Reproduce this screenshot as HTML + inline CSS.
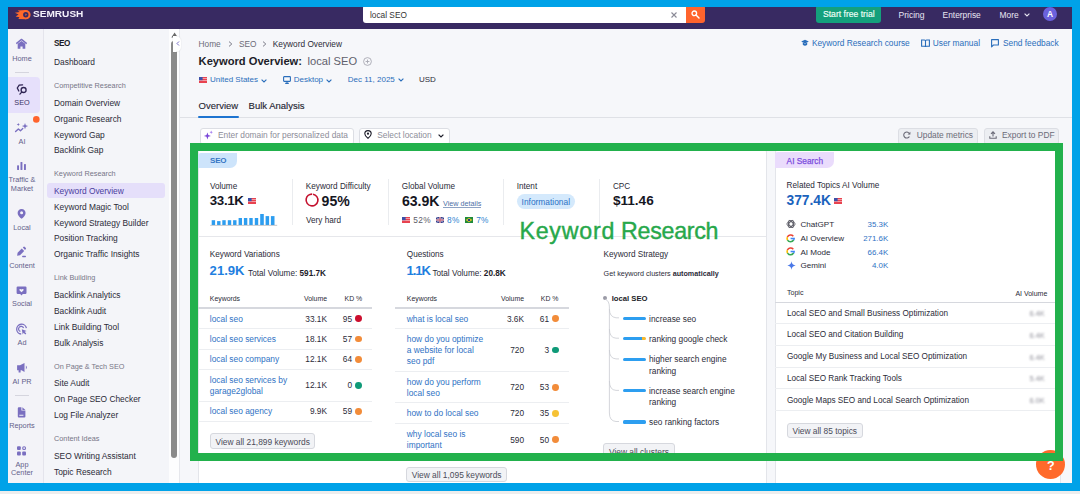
<!DOCTYPE html>
<html><head><meta charset="utf-8">
<style>
*{box-sizing:border-box;margin:0;padding:0}
html,body{width:1080px;height:494px;overflow:hidden;background:#f6f7fa;font-family:"Liberation Sans",sans-serif;color:#1f1f2e}
.a{position:absolute}
.t{position:absolute;white-space:nowrap;line-height:1}
svg{position:absolute;overflow:visible}
#hdr{left:0;top:0;width:1080px;height:29px;background:#382a62}
#isb{left:0;top:29px;width:43.5px;height:466px;background:#f3f3f8;border-right:1px solid #e4e4ec}
#ssb{left:43.5px;top:29px;width:134px;height:466px;background:#f4f5f9}
.il{font-size:7.3px;color:#645f8b;text-align:center;width:36px;left:4px;line-height:8.5px}
.sm{font-size:8.4px;color:#2b2b38;left:54px}
.sg{font-size:7.3px;color:#777687;left:54px}
.blue{color:#2a6ebb}
.card{background:#fff;border:1px solid #e3e5ea}
.lb{font-size:8.2px;color:#2b2b38}
.big{font-weight:700;color:#16161f}
.vd{top:179px;width:1px;height:46px;background:#eaecef}
.th{font-size:6.9px;color:#2b2b38;top:296px}
.rl{height:1px;background:#eceef1}
.kw{font-size:8.4px;color:#2f72c4}
.kv{font-size:8.3px;color:#2b2b38;width:30px;text-align:right}
.dot{width:6.8px;height:6.8px;border-radius:50%}
.btn{height:15.2px;background:#f2f3f6;border:1px solid #d6d8de;border-radius:3px}
.bt{font-size:8.4px;color:#4b4b58}
.kb{height:3.2px;border-radius:1.6px;background:#2d9ef0}
.ks{font-size:8.3px;color:#2b2b38}
.ai{font-size:8.1px;color:#2b2b38}
.av{font-size:7.9px;color:#2f72c4;width:40.2px;text-align:right}
.tp{font-size:8.2px;color:#2b2b38;left:786.9px}
.bv{font-size:7.4px;color:#8f8f99;left:1020px;width:24.6px;text-align:right;filter:blur(0.9px)}
</style></head><body>

<!-- HEADER -->
<div class="a" id="hdr"></div>
<!-- logo -->
<svg style="left:0;top:0" width="34" height="28" viewBox="0 0 34 28">
  <path d="M26 10.1 L17.6 10.4 L19.8 11.9 L14.9 12.7 L18.6 14.5 L15.6 16.6 L19.5 17.3 L18.3 19.1 L26 19.3 Z" fill="#ff6a2b"/>
  <circle cx="26" cy="14.7" r="4.6" fill="#ff6a2b"/>
  <circle cx="25.8" cy="14.8" r="2.7" fill="#382a62"/>
  <path d="M25.3 13.6 L27.2 14.8 L25.3 16 Z" fill="#ff6a2b" opacity="0.8"/>
</svg>
<div class="t" style="left:32.7px;top:10.3px;font-size:8.7px;font-weight:700;color:#f4f2fb;transform:scaleX(1.16);transform-origin:0 0">SEMRUSH</div>

<!-- search -->
<div class="a" style="left:362.5px;top:5px;width:323px;height:17.5px;background:#fff;border-radius:3px 0 0 3px"></div>
<div class="t" style="left:370px;top:10.5px;font-size:8.3px;color:#333">local SEO</div>
<svg style="left:671px;top:11.5px" width="6" height="6" viewBox="0 0 6 6"><path d="M0.5 0.5L5.5 5.5M5.5 0.5L0.5 5.5" stroke="#8a8a96" stroke-width="1.1"/></svg>
<div class="a" style="left:685.5px;top:5px;width:19.5px;height:18px;background:#ff642d;border-radius:0 3px 3px 0"></div>
<svg style="left:691px;top:10px" width="9" height="9" viewBox="0 0 9 9"><circle cx="3.3" cy="3.3" r="2.3" fill="none" stroke="#fff" stroke-width="1.3"/><path d="M5 5L8 8" stroke="#fff" stroke-width="1.4" stroke-linecap="round"/></svg>

<div class="a" style="left:816px;top:5px;width:65px;height:18px;background:#14a07c;border-radius:3px"></div>
<div class="t" style="left:823px;top:10.2px;font-size:8.6px;color:#effff8;-webkit-text-stroke:0.15px #effff8">Start free trial</div>
<div class="t" style="left:898.5px;top:10.8px;font-size:8.5px;color:#e8e6f2">Pricing</div>
<div class="t" style="left:942.6px;top:10.8px;font-size:8.4px;color:#e8e6f2">Enterprise</div>
<div class="t" style="left:999.6px;top:10.8px;font-size:8.4px;color:#e8e6f2">More</div>
<svg style="left:1024px;top:12.5px" width="6" height="4" viewBox="0 0 6 4"><path d="M0.6 0.6L3 3L5.4 0.6" fill="none" stroke="#e8e6f2" stroke-width="1.1"/></svg>
<div class="a" style="left:1043px;top:7.2px;width:14px;height:14px;border-radius:50%;background:#6b62de"></div>
<div class="t" style="left:1043px;width:14px;text-align:center;top:10.4px;font-size:8.4px;font-weight:700;color:#fff">A</div>

<!-- ICON SIDEBAR -->
<div class="a" id="isb"></div>
<div class="a" style="left:8px;top:77px;width:31.5px;height:35.5px;background:#e6e0fb;border-radius:0 4px 4px 0"></div>
<div class="a" style="left:14.5px;top:72px;width:14px;height:1px;background:#d5d5de"></div>
<div class="a" style="left:14.5px;top:395px;width:14px;height:1px;background:#d5d5de"></div>
<svg style="left:0;top:0" width="44" height="494" viewBox="0 0 44 494">
 <g fill="#7a6fc0">
  <path d="M16.3 43.6 L21.5 39.4 L26.7 43.6" fill="none" stroke="#7a6fc0" stroke-width="1.4" stroke-linejoin="round"/>
  <path d="M17.7 43.8 L21.5 41 L25.3 43.8 L25.3 48.8 L22.6 48.8 L22.6 46.6 L20.4 46.6 L20.4 48.8 L17.7 48.8 Z"/>
  <!-- AI -->
  <path d="M18.3 122.9 L18.8 124 L19.9 124.5 L18.8 125 L18.3 126.1 L17.8 125 L16.7 124.5 L17.8 124 Z"/>
  <path d="M25 122.9 L25.8 125.2 L28.1 126.1 L25.8 127 L25 129.3 L24.2 127 L21.9 126.1 L24.2 125.2 Z"/>
  <path d="M15.6 131.6 L18.4 129 L20.5 130.7 L22.8 128.6" fill="none" stroke="#7a6fc0" stroke-width="1.4" stroke-linecap="round" stroke-linejoin="round"/>
  <!-- traffic -->
  <rect x="17.1" y="165.3" width="1.9" height="4.8" rx="0.6"/>
  <rect x="20.5" y="162" width="1.9" height="8.1" rx="0.6"/>
  <rect x="24" y="163.9" width="1.9" height="6.2" rx="0.6"/>
  <!-- local -->
  <path d="M21.6 208.9 C24 208.9 25.6 210.7 25.6 212.9 C25.6 215.2 23.4 217.3 21.6 218.7 C19.8 217.3 17.6 215.2 17.6 212.9 C17.6 210.7 19.2 208.9 21.6 208.9 Z M21.6 211.3 A1.5 1.5 0 1 0 21.6 214.3 A1.5 1.5 0 1 0 21.6 211.3 Z" fill-rule="evenodd"/>
  <!-- content -->
  <path d="M17.1 255.8 L17.6 252.8 L21.8 248.6 L24.2 251 L20 255.2 Z"/>
  <path d="M22.8 247.6 L23.7 246.8 Q24.3 246.4 24.8 246.9 L25.9 248 Q26.3 248.5 25.8 249.1 L25 249.9 Z"/>
  <rect x="22.1" y="255.8" width="3.9" height="1.4" rx="0.7"/>
  <!-- social -->
  <path d="M17.8 286.4 L25.3 286.4 Q26.5 286.4 26.5 287.6 L26.5 292.7 Q26.5 293.9 25.3 293.9 L22.8 293.9 L21.5 295.6 L20.2 293.9 L17.8 293.9 Q16.6 293.9 16.6 292.7 L16.6 287.6 Q16.6 286.4 17.8 286.4 Z"/>
  <path d="M21.5 292.3 L19.6 290.4 Q19.1 289.6 19.8 289.1 Q20.6 288.7 21.5 289.6 Q22.4 288.7 23.2 289.1 Q23.9 289.6 23.4 290.4 Z" fill="#f3f3f8"/>
  <!-- ad -->
  <path d="M26.4 328.2 A4.9 4.9 0 1 0 21.2 334" fill="none" stroke="#7a6fc0" stroke-width="1.3"/>
  <path d="M23.6 328 A2.6 2.6 0 1 0 20.4 331.4" fill="none" stroke="#7a6fc0" stroke-width="1.2"/>
  <path d="M21.8 329.2 L26.6 331 L24.6 331.8 L26.3 333.6 L25.3 334.5 L23.6 332.7 L22.7 334.6 Z"/>
  <!-- AI PR -->
  <path d="M17.1 365.3 L20 365.3 L24.5 363 L24.5 372 L21.6 370.2 L20.6 370.2 L20.6 372.4 L18.6 372.4 L18.6 370.2 L17.1 370.2 Z"/>
  <path d="M25.9 365.6 Q27.8 367.5 25.9 369.4 Z"/>
  <!-- reports -->
  <path d="M18.8 407.2 L21.4 407.2 L21.4 410.6 L25.4 410.6 L25.4 416.6 Q25.4 417.6 24.4 417.6 L18.8 417.6 Q17.8 417.6 17.8 416.6 L17.8 408.2 Q17.8 407.2 18.8 407.2 Z M19.3 414.8 L19.3 415.8 L23.4 415.8 L23.4 414.8 Z" fill-rule="evenodd"/>
  <path d="M22.4 407.2 L25.4 410 L22.4 410 Z"/>
  <!-- app -->
  <rect x="17" y="446.2" width="3.8" height="3.8" rx="1"/>
  <rect x="17" y="451.6" width="3.8" height="3.8" rx="1"/>
  <rect x="22.2" y="451.6" width="3.8" height="3.8" rx="1"/>
  <rect x="22.7" y="446.7" width="2.8" height="2.8" rx="1.3" fill="none" stroke="#7a6fc0" stroke-width="1.1"/>
 </g>
 <!-- SEO active icon -->
 <g fill="none" stroke="#2f2553" stroke-width="1.3" stroke-linecap="round">
  <circle cx="23.6" cy="90" r="2.5"/>
  <path d="M21.7 92.1 L19.9 94.1"/>
  <path d="M22.6 84.9 L19.2 85.2 L17.3 88 L18.8 91"/>
 </g>
 <circle cx="36.3" cy="119.4" r="3.3" fill="#ff642d"/>
</svg>
<div class="t il" style="top:54.6px">Home</div>
<div class="t il" style="top:99.2px;color:#3d3466">SEO</div>
<div class="t il" style="top:137.6px">AI</div>
<div class="t il" style="top:176.2px">Traffic &amp;</div>
<div class="t il" style="top:185.2px">Market</div>
<div class="t il" style="top:223.7px">Local</div>
<div class="t il" style="top:262.0px">Content</div>
<div class="t il" style="top:300.4px">Social</div>
<div class="t il" style="top:339.1px">Ad</div>
<div class="t il" style="top:377.7px">AI PR</div>
<div class="t il" style="top:422.4px">Reports</div>
<div class="t il" style="top:460.8px">App</div>
<div class="t il" style="top:469.3px">Center</div>

<!-- SEO SIDEBAR -->
<div class="a" id="ssb"></div>
<div class="a" style="left:47.4px;top:183.2px;width:118px;height:15px;background:#e5dffa;border-radius:3px"></div>
<div class="t sm" style="top:39.7px;font-weight:700;font-size:8.2px;letter-spacing:-0.45px;color:#1c1c28">SEO</div>
<div class="t sm" style="top:58.1px">Dashboard</div>
<div class="t sg" style="top:82.2px">Competitive Research</div>
<div class="t sm" style="top:98.5px">Domain Overview</div>
<div class="t sm" style="top:114.5px">Organic Research</div>
<div class="t sm" style="top:130.5px">Keyword Gap</div>
<div class="t sm" style="top:146.3px">Backlink Gap</div>
<div class="t sg" style="top:170.4px">Keyword Research</div>
<div class="t sm" style="top:186.8px;color:#4a3e9e">Keyword Overview</div>
<div class="t sm" style="top:202.6px">Keyword Magic Tool</div>
<div class="t sm" style="top:218.5px">Keyword Strategy Builder</div>
<div class="t sm" style="top:234.4px">Position Tracking</div>
<div class="t sm" style="top:250.2px">Organic Traffic Insights</div>
<div class="t sg" style="top:274.3px">Link Building</div>
<div class="t sm" style="top:291.2px">Backlink Analytics</div>
<div class="t sm" style="top:307.0px">Backlink Audit</div>
<div class="t sm" style="top:322.8px">Link Building Tool</div>
<div class="t sm" style="top:338.8px">Bulk Analysis</div>
<div class="t sg" style="top:362.5px">On Page &amp; Tech SEO</div>
<div class="t sm" style="top:379.4px">Site Audit</div>
<div class="t sm" style="top:395.0px">On Page SEO Checker</div>
<div class="t sm" style="top:411.0px">Log File Analyzer</div>
<div class="t sg" style="top:435.2px">Content Ideas</div>
<div class="t sm" style="top:451.7px">SEO Writing Assistant</div>
<div class="t sm" style="top:467.5px">Topic Research</div>
<!-- scrollbar -->
<div class="a" style="left:168.7px;top:29px;width:11.8px;height:466px;background:#fdfdfe;border-right:1.2px solid #e6e7ec"></div>
<div class="a" style="left:171.2px;top:41.4px;width:5.7px;height:416.5px;background:#8a8a8a;border-radius:3px"></div>
<svg style="left:170.5px;top:32px" width="7" height="6" viewBox="0 0 7 6"><path d="M0.3 5.4 L3.6 0.6 L6.9 5.4 Z" fill="#6a6a6a"/></svg>
<div class="a" style="left:173px;top:36px;width:8px;height:15.7px;background:#fff;border-radius:0 5px 5px 0;box-shadow:0 0 1.5px rgba(0,0,0,0.12)"></div>
<svg style="left:176.3px;top:41.2px" width="4" height="5" viewBox="0 0 4 5"><path d="M3 0.5 L1 2.5 L3 4.5" fill="none" stroke="#6a5fc0" stroke-width="0.9"/></svg>

<!-- CONTENT -->
<div class="t" style="left:198.6px;top:39.6px;font-size:8.3px;color:#6b6b78">Home</div>
<svg style="left:227.9px;top:40.9px" width="5" height="6" viewBox="0 0 5 6"><path d="M1 0.6L3.8 3L1 5.4" fill="none" stroke="#7d7d89" stroke-width="1"/></svg>
<div class="t" style="left:238.9px;top:39.6px;font-size:8.3px;color:#6b6b78">SEO</div>
<svg style="left:262.0px;top:40.9px" width="5" height="6" viewBox="0 0 5 6"><path d="M1 0.6L3.8 3L1 5.4" fill="none" stroke="#7d7d89" stroke-width="1"/></svg>
<div class="t" style="left:272.8px;top:39.6px;font-size:8.3px;color:#2b2b38">Keyword Overview</div>

<div class="t" style="left:198.6px;top:56.4px;font-size:11.15px;font-weight:700;color:#1c1c28">Keyword Overview:</div>
<div class="t" style="left:307.6px;top:56.4px;font-size:11.15px;color:#5f5f6c">local SEO</div>
<svg style="left:362.5px;top:57.4px" width="9" height="9" viewBox="0 0 9 9"><circle cx="4.5" cy="4.5" r="3.9" fill="none" stroke="#a8a8b2" stroke-width="0.9"/><path d="M4.5 2.6V6.4M2.6 4.5H6.4" stroke="#a8a8b2" stroke-width="0.9"/></svg>

<svg style="left:199.2px;top:77px" width="8" height="6" viewBox="0 0 8 6"><rect width="8" height="6" fill="#e8424f"/><rect y="1.2" width="8" height="0.8" fill="#fff" opacity=".6"/><rect y="3.2" width="8" height="0.8" fill="#fff" opacity=".6"/><rect width="3.6" height="3.2" fill="#3c4fa8"/></svg>
<div class="t" style="left:210px;top:75.7px;font-size:8px;color:#2a6ebb">United States</div>
<svg style="left:261px;top:78.5px" width="6" height="4" viewBox="0 0 6 4"><path d="M0.6 0.6L3 3L5.4 0.6" fill="none" stroke="#2a6ebb" stroke-width="1.1"/></svg>
<svg style="left:283px;top:75.8px" width="8" height="8" viewBox="0 0 8 8"><rect x="0.6" y="0.6" width="6.8" height="4.8" rx="0.6" fill="none" stroke="#2a6ebb" stroke-width="1.1"/><path d="M4 5.4V7.2M2.2 7.4H5.8" stroke="#2a6ebb" stroke-width="1.1"/></svg>
<div class="t" style="left:293.7px;top:75.7px;font-size:8px;color:#2a6ebb">Desktop</div>
<svg style="left:326.3px;top:78.5px" width="6" height="4" viewBox="0 0 6 4"><path d="M0.6 0.6L3 3L5.4 0.6" fill="none" stroke="#2a6ebb" stroke-width="1.1"/></svg>
<div class="t" style="left:347.8px;top:75.7px;font-size:8px;color:#2a6ebb">Dec 11, 2025</div>
<svg style="left:398px;top:78.3px" width="6" height="4" viewBox="0 0 6 4"><path d="M0.6 0.6L3 3L5.4 0.6" fill="none" stroke="#2a6ebb" stroke-width="1.1"/></svg>
<div class="t" style="left:419px;top:75.7px;font-size:8px;color:#2b2b38">USD</div>

<div class="t" style="left:198.6px;top:101.2px;font-size:9.5px;color:#262633;-webkit-text-stroke:0.12px #262633">Overview</div>
<div class="t" style="left:248.6px;top:101px;font-size:9.5px;color:#262633;-webkit-text-stroke:0.15px #262633">Bulk Analysis</div>
<div class="a" style="left:179.8px;top:117px;width:893px;height:1px;background:#dfe1e6"></div>
<div class="a" style="left:198.4px;top:115.8px;width:40.6px;height:2px;background:#1e74d0;border-radius:1px"></div>

<!-- top right links -->
<svg style="left:801.4px;top:39.3px" width="8" height="8" viewBox="0 0 8 8"><path d="M0.2 2.6L4 0.8L7.8 2.6L4 4.4Z" fill="#2a6ebb"/><path d="M1.8 3.6V5.8Q4 7.6 6.2 5.8V3.6L4 4.7Z" fill="#2a6ebb"/></svg>
<div class="t" style="left:811.9px;top:39.4px;font-size:8.35px;color:#2a6ebb">Keyword Research course</div>
<svg style="left:921px;top:39px" width="9" height="9" viewBox="0 0 9 9"><path d="M0.6 1H3.4Q4.5 1 4.5 2.1V8Q4.5 7.2 3.4 7.2H0.6Z M8.4 1H5.6Q4.5 1 4.5 2.1V8Q4.5 7.2 5.6 7.2H8.4Z" fill="none" stroke="#2a6ebb" stroke-width="1.1"/></svg>
<div class="t" style="left:932.7px;top:39.4px;font-size:8.35px;color:#2a6ebb">User manual</div>
<svg style="left:991.4px;top:39.2px" width="8" height="9" viewBox="0 0 8 9"><path d="M0.6 0.6H7.4V6H2.4L0.6 7.8Z" fill="none" stroke="#2a6ebb" stroke-width="1.1" stroke-linejoin="round"/></svg>
<div class="t" style="left:1003px;top:39.4px;font-size:8.35px;color:#2a6ebb">Send feedback</div>

<!-- toolbar -->
<div class="a" style="left:199.6px;top:127.6px;width:154.3px;height:17px;background:#fff;border:1px solid #dcdee4;border-radius:3px"></div>
<svg style="left:203px;top:130px" width="11" height="10" viewBox="0 0 11 10"><path d="M4.4 2.4L5.3 5L7.9 5.9L5.3 6.8L4.4 9.4L3.5 6.8L0.9 5.9L3.5 5Z" fill="#7b47d9"/><path d="M8.2 0.6L8.7 1.8L9.9 2.3L8.7 2.8L8.2 4L7.7 2.8L6.5 2.3L7.7 1.8Z" fill="#a57cf0"/></svg>
<div class="t" style="left:218px;top:131.3px;font-size:8.36px;color:#8d8d99">Enter domain for personalized data</div>
<div class="a" style="left:358.5px;top:127.6px;width:91.5px;height:17px;background:#fff;border:1px solid #dcdee4;border-radius:3px"></div>
<svg style="left:363.5px;top:130.4px" width="8" height="9" viewBox="0 0 8 9"><path d="M4 0.6C5.9 0.6 7.2 2 7.2 3.7C7.2 5.5 5.4 7.2 4 8.4C2.6 7.2 0.8 5.5 0.8 3.7C0.8 2 2.1 0.6 4 0.6Z" fill="none" stroke="#1c1c28" stroke-width="1.1"/><circle cx="4" cy="3.7" r="1.1" fill="#1c1c28"/></svg>
<div class="t" style="left:377.2px;top:131.3px;font-size:8.4px;color:#8d8d99">Select location</div>
<svg style="left:438px;top:133.8px" width="6" height="4" viewBox="0 0 6 4"><path d="M0.6 0.6L3 3L5.4 0.6" fill="none" stroke="#1c1c28" stroke-width="1.2"/></svg>

<div class="a" style="left:898.3px;top:127.5px;width:80px;height:17px;background:#eceef2;border:1px solid #dcdee4;border-radius:3px"></div>
<svg style="left:902.8px;top:131px" width="8" height="8" viewBox="0 0 8 8"><path d="M6.6 3.2A3 3 0 1 0 6.4 5.4" fill="none" stroke="#6b6b78" stroke-width="1.1"/><path d="M7.4 0.8V3.6H4.6Z" fill="#6b6b78"/></svg>
<div class="t" style="left:916.7px;top:131.3px;font-size:8.4px;color:#6b6b78">Update metrics</div>
<div class="a" style="left:984.2px;top:127.5px;width:74.5px;height:17px;background:#eceef2;border:1px solid #dcdee4;border-radius:3px"></div>
<svg style="left:989px;top:130.6px" width="8" height="8" viewBox="0 0 8 8"><path d="M4 5.4V1M2 2.8L4 0.8L6 2.8M0.8 5.2V7.2H7.2V5.2" fill="none" stroke="#6b6b78" stroke-width="1.1"/></svg>
<div class="t" style="left:1002px;top:131.3px;font-size:8.4px;color:#6b6b78">Export to PDF</div>

<!-- SEO CARD -->
<div class="a card" style="left:197.5px;top:148px;width:569px;height:360px;border-radius:4px"></div>
<div class="a" style="left:198px;top:152.5px;width:38.7px;height:15.8px;background:#cde4fb;border-radius:3px 0 7px 0"></div>
<div class="t" style="left:210px;top:157.3px;font-size:8px;font-weight:700;letter-spacing:-0.2px;color:#3676c4">SEO</div>

<!-- metric labels -->
<div class="t lb" style="left:209.9px;top:182.8px">Volume</div>
<div class="t lb" style="left:305.8px;top:182.8px">Keyword Difficulty</div>
<div class="t lb" style="left:401.8px;top:182.8px">Global Volume</div>
<div class="t lb" style="left:516.7px;top:182.8px">Intent</div>
<div class="t lb" style="left:612.9px;top:182.8px">CPC</div>
<div class="t big" style="left:209.7px;top:194.4px;font-size:13.3px;letter-spacing:-0.3px">33.1K</div>
<svg style="left:247.6px;top:198.4px" width="8" height="6" viewBox="0 0 8 6"><rect width="8" height="6" fill="#e8424f"/><rect y="1.2" width="8" height="0.8" fill="#fff" opacity=".6"/><rect y="3.2" width="8" height="0.8" fill="#fff" opacity=".6"/><rect width="3.6" height="3.2" fill="#3c4fa8"/></svg>
<svg style="left:209px;top:212px" width="70" height="14" viewBox="0 0 70 14">
 <g fill="#2c9df0">
  <rect x="2.7" y="8.2" width="3.4" height="4.8"/><rect x="8.1" y="9.1" width="3.4" height="3.9"/><rect x="13.3" y="8.2" width="3.4" height="4.8"/><rect x="18.8" y="8.2" width="3.4" height="4.8"/><rect x="24.1" y="8.2" width="3.4" height="4.8"/><rect x="29.6" y="6" width="3.4" height="7"/><rect x="34.9" y="6" width="3.4" height="7"/><rect x="40.3" y="6" width="3.4" height="7"/><rect x="45.8" y="6" width="3.4" height="7"/><rect x="51.2" y="2" width="3.6" height="11"/><rect x="56.6" y="4.1" width="3.5" height="8.9"/><rect x="61.9" y="4.1" width="3.6" height="8.9"/>
 </g>
 <rect x="1.2" y="12.9" width="67" height="0.6" fill="#9aa0aa"/>
</svg>
<div class="a vd" style="left:291.5px"></div>
<svg style="left:305px;top:193.3px" width="14" height="14" viewBox="0 0 14 14"><circle cx="7" cy="7" r="5.9" fill="none" stroke="#c4122f" stroke-width="1.6" stroke-dasharray="35.2 1.9" transform="rotate(-80 7 7)"/></svg>
<div class="t big" style="left:321.6px;top:194.4px;font-size:14.1px">95%</div>
<div class="t lb" style="left:306px;top:216.5px">Very hard</div>
<div class="a vd" style="left:388px"></div>
<div class="t big" style="left:401.9px;top:194.4px;font-size:14.1px">63.9K</div>
<div class="t" style="left:443.1px;top:199.6px;font-size:7.2px;color:#4c6fa6">View details</div>
<div class="a" style="left:443.1px;top:207.3px;width:38.2px;height:0.8px;background:#8ea3c4"></div>
<svg style="left:401.9px;top:216.9px" width="8" height="6" viewBox="0 0 8 6"><rect width="8" height="6" fill="#e8424f"/><rect y="1.2" width="8" height="0.8" fill="#fff" opacity=".6"/><rect y="3.2" width="8" height="0.8" fill="#fff" opacity=".6"/><rect width="3.6" height="3.2" fill="#3c4fa8"/></svg>
<div class="t" style="left:413.3px;top:215.6px;font-size:8.3px;color:#5b5b68;letter-spacing:0.3px">52%</div>
<svg style="left:436px;top:216.9px" width="8" height="6" viewBox="0 0 8 6"><rect width="8" height="6" fill="#33408f"/><path d="M0 0L8 6M8 0L0 6" stroke="#d8d8e8" stroke-width="0.8"/><path d="M4 0V6M0 3H8" stroke="#e6e6f0" stroke-width="1.4"/><path d="M4 0V6M0 3H8" stroke="#c8283c" stroke-width="0.7"/></svg>
<div class="t" style="left:447px;top:215.6px;font-size:8.3px;color:#2f7fd0;letter-spacing:0.3px">8%</div>
<svg style="left:465.1px;top:216.9px" width="8" height="6" viewBox="0 0 8 6"><rect width="8" height="6" fill="#1f8a3b"/><path d="M4 0.7L7.3 3L4 5.3L0.7 3Z" fill="#f4d21f"/><circle cx="4" cy="3" r="1.3" fill="#1f3f8f"/></svg>
<div class="t" style="left:476.2px;top:215.6px;font-size:8.3px;color:#2f7fd0;letter-spacing:0.3px">7%</div>
<div class="a vd" style="left:502.8px"></div>
<div class="a" style="left:516.7px;top:193.6px;width:58.6px;height:15.3px;background:#d4e9fc;border-radius:8px"></div>
<div class="t" style="left:521.6px;top:197.5px;font-size:8.4px;color:#2a72c6">Informational</div>
<div class="a vd" style="left:598.6px"></div>
<div class="t big" style="left:612.9px;top:194.4px;font-size:13.6px">$11.46</div>
<div class="a" style="left:198px;top:236px;width:568px;height:1px;background:#e6e7eb"></div>

<!-- Keyword Variations -->
<div class="t lb" style="left:209.8px;top:251.0px">Keyword Variations</div>
<div class="t big" style="left:209.6px;top:264.2px;font-size:13.1px;color:#1f7fe0">21.9K</div>
<div class="t lb" style="left:248.1px;top:269.7px">Total Volume: <b style="color:#1c1c28">591.7K</b></div>
<div class="t th" style="left:209.8px">Keywords</div>
<div class="t th" style="left:303px;width:24px;text-align:right">Volume</div>
<div class="t th" style="left:344.6px">KD %</div>
<div class="a" style="left:198px;top:307.3px;width:174px;height:1.5px;background:#d6d8de"></div>
<div class="a rl" style="left:198px;top:328.4px;width:174px"></div>
<div class="a rl" style="left:198px;top:348.9px;width:174px"></div>
<div class="a rl" style="left:198px;top:368.8px;width:174px"></div>
<div class="a rl" style="left:198px;top:400.5px;width:174px"></div>
<div class="a rl" style="left:198px;top:420.9px;width:174px"></div>
<div class="t kw" style="left:209.8px;top:314.5px">local seo</div>
<div class="t kv" style="left:297px;top:314.5px">33.1K</div><div class="t kv" style="left:322px;top:314.5px">95</div><div class="a dot" style="left:355.1px;top:315.3px;background:#cc0f2f"></div>
<div class="t kw" style="left:209.8px;top:334.9px">local seo services</div>
<div class="t kv" style="left:297px;top:334.9px">18.1K</div><div class="t kv" style="left:322px;top:334.9px">57</div><div class="a dot" style="left:355.1px;top:335.7px;background:#f28c3a"></div>
<div class="t kw" style="left:209.8px;top:355px">local seo company</div>
<div class="t kv" style="left:297px;top:355px">12.1K</div><div class="t kv" style="left:322px;top:355px">64</div><div class="a dot" style="left:355.1px;top:355.8px;background:#f28c3a"></div>
<div class="t kw" style="left:209.8px;top:376px">local seo services by</div>
<div class="t kw" style="left:209.8px;top:386.8px">garage2global</div>
<div class="t kv" style="left:297px;top:381.4px">12.1K</div><div class="t kv" style="left:322px;top:381.4px">0</div><div class="a dot" style="left:355.1px;top:382.2px;background:#0f9a78"></div>
<div class="t kw" style="left:209.8px;top:407.2px">local seo agency</div>
<div class="t kv" style="left:297px;top:407.2px">9.9K</div><div class="t kv" style="left:322px;top:407.2px">59</div><div class="a dot" style="left:355.1px;top:408.0px;background:#f28c3a"></div>
<div class="a btn" style="left:209.9px;top:433.4px;width:105.2px"></div>
<div class="t bt" style="left:215.5px;top:437.5px">View all 21,899 keywords</div>

<!-- Questions -->
<div class="t lb" style="left:406.8px;top:251.0px">Questions</div>
<div class="t big" style="left:406.6px;top:264.2px;font-size:13.1px;color:#1f7fe0;letter-spacing:-1.1px">1.1K</div>
<div class="t lb" style="left:432.4px;top:269.7px">Total Volume: <b style="color:#1c1c28">20.8K</b></div>
<div class="t th" style="left:406.8px">Keywords</div>
<div class="t th" style="left:500px;width:24px;text-align:right">Volume</div>
<div class="t th" style="left:540.8px">KD %</div>
<div class="a" style="left:395px;top:307.3px;width:174px;height:1.5px;background:#d6d8de"></div>
<div class="a rl" style="left:395px;top:328.3px;width:174px"></div>
<div class="a rl" style="left:395px;top:370.6px;width:174px"></div>
<div class="a rl" style="left:395px;top:402.2px;width:174px"></div>
<div class="a rl" style="left:395px;top:422.9px;width:174px"></div>
<div class="a rl" style="left:395px;top:455.5px;width:174px"></div>
<div class="t kw" style="left:406.8px;top:314.5px">what is local seo</div>
<div class="t kv" style="left:494px;top:314.5px">3.6K</div><div class="t kv" style="left:519px;top:314.5px">61</div><div class="a dot" style="left:552.2px;top:315.3px;background:#f28c3a"></div>
<div class="t kw" style="left:406.8px;top:334.7px">how do you optimize</div>
<div class="t kw" style="left:406.8px;top:345.9px">a website for local</div>
<div class="t kw" style="left:406.8px;top:357.1px">seo pdf</div>
<div class="t kv" style="left:494px;top:345.9px">720</div><div class="t kv" style="left:519px;top:345.9px">3</div><div class="a dot" style="left:552.2px;top:346.7px;background:#0f9a78"></div>
<div class="t kw" style="left:406.8px;top:377.7px">how do you perform</div>
<div class="t kw" style="left:406.8px;top:388.9px">local seo</div>
<div class="t kv" style="left:494px;top:383.3px">720</div><div class="t kv" style="left:519px;top:383.3px">53</div><div class="a dot" style="left:552.2px;top:384.1px;background:#f28c3a"></div>
<div class="t kw" style="left:406.8px;top:409.2px">how to do local seo</div>
<div class="t kv" style="left:494px;top:409.2px">720</div><div class="t kv" style="left:519px;top:409.2px">35</div><div class="a dot" style="left:552.2px;top:410.0px;background:#f6c235"></div>
<div class="t kw" style="left:406.8px;top:430px">why local seo is</div>
<div class="t kw" style="left:406.8px;top:441.2px">important</div>
<div class="t kv" style="left:494px;top:435.6px">590</div><div class="t kv" style="left:519px;top:435.6px">50</div><div class="a dot" style="left:552.2px;top:436.4px;background:#f28c3a"></div>
<div class="a btn" style="left:406.3px;top:467.2px;width:100.5px"></div>
<div class="t bt" style="left:411.8px;top:471.3px">View all 1,095 keywords</div>

<!-- Keyword Strategy -->
<div class="t lb" style="left:603.6px;top:251.0px">Keyword Strategy</div>
<div class="t" style="left:603.6px;top:269.7px;font-size:7.2px;color:#2b2b38">Get keyword clusters <b>automatically</b></div>
<div class="a" style="left:603.2px;top:295.7px;width:4.2px;height:4.2px;border-radius:50%;background:#9a9aa6"></div>
<div class="t" style="left:611.7px;top:294.6px;font-size:7.7px;font-weight:700;color:#1c1c28">local SEO</div>
<svg style="left:600px;top:295px" width="30" height="132" viewBox="0 0 30 132">
 <g fill="none" stroke="#c9cbd2" stroke-width="0.8">
  <path d="M5.2 4 Q9.4 6 9.4 12 L9.4 118 Q9.4 126 16 126.5 L19 126.5"/>
  <path d="M9.4 14 Q9.4 22 16 22.8 L19 22.8"/>
  <path d="M9.4 34 Q9.4 42.8 16 43.2 L19 43.2"/>
  <path d="M9.4 55 Q9.4 63.5 16 63.9 L19 63.9"/>
  <path d="M9.4 86 Q9.4 95 16 95.4 L19 95.4"/>
 </g>
</svg>
<div class="a kb" style="left:623.4px;top:316.8px;width:22.3px"></div>
<div class="t ks" style="left:649.1px;top:314.6px">increase seo</div>
<div class="a" style="left:641px;top:337px;width:4.7px;height:3.2px;border-radius:0 1.6px 1.6px 0;background:#f5b82e"></div><div class="a kb" style="left:623.2px;top:337px;width:18.6px;border-radius:1.6px 0 0 1.6px"></div>
<div class="t ks" style="left:649px;top:334.9px">ranking google check</div>
<div class="a kb" style="left:623.2px;top:357.6px;width:22.5px"></div>
<div class="t ks" style="left:649px;top:355.3px">higher search engine</div>
<div class="t ks" style="left:649px;top:366.5px">ranking</div>
<div class="a kb" style="left:623.2px;top:389.1px;width:22.5px"></div>
<div class="t ks" style="left:649px;top:386.8px">increase search engine</div>
<div class="t ks" style="left:649px;top:398.0px">ranking</div>
<div class="a kb" style="left:623.2px;top:420.4px;width:22.5px"></div>
<div class="t ks" style="left:649px;top:418.1px">seo ranking factors</div>
<div class="a btn" style="left:603.4px;top:443.4px;width:71.7px"></div>
<div class="t bt" style="left:609px;top:447.5px">View all clusters</div>

<!-- AI CARD -->
<div class="a card" style="left:774.5px;top:148px;width:286px;height:360px;border-radius:4px"></div>
<div class="a" style="left:775px;top:152.3px;width:59px;height:15.4px;background:#eadcfc;border-radius:3px 0 7px 0"></div>
<div class="t" style="left:786.6px;top:157.2px;font-size:8.3px;color:#7b4bdc;-webkit-text-stroke:0.25px #7b4bdc">AI Search</div>
<div class="t lb" style="left:786.6px;top:182.1px">Related Topics AI Volume</div>
<div class="t big" style="left:786.5px;top:194.3px;font-size:13.8px;color:#1b63bd">377.4K</div>
<svg style="left:834.4px;top:198.2px" width="8" height="6" viewBox="0 0 8 6"><rect width="8" height="6" fill="#e8424f"/><rect y="1.2" width="8" height="0.8" fill="#fff" opacity=".6"/><rect y="3.2" width="8" height="0.8" fill="#fff" opacity=".6"/><rect width="3.6" height="3.2" fill="#3c4fa8"/></svg>
<!-- AI list icons -->
<svg style="left:786px;top:219.2px" width="10" height="10" viewBox="0 0 10 10"><g fill="none" stroke="#4a4a55" stroke-width="0.75"><ellipse cx="5" cy="5" rx="4.1" ry="2.1"/><ellipse cx="5" cy="5" rx="4.1" ry="2.1" transform="rotate(60 5 5)"/><ellipse cx="5" cy="5" rx="4.1" ry="2.1" transform="rotate(120 5 5)"/></g></svg>
<svg style="left:785.8px;top:233.7px" width="9" height="9" viewBox="0 0 9 9"><g fill="none" stroke-width="1.6"><path d="M7.3 2.2A3.6 3.6 0 0 0 1.4 3" stroke="#ea4335"/><path d="M1.4 3A3.6 3.6 0 0 0 1.5 6.1" stroke="#fbbc05"/><path d="M1.5 6.1A3.6 3.6 0 0 0 7.6 6" stroke="#34a853"/><path d="M7.6 6A3.6 3.6 0 0 0 8.1 4.5L4.6 4.5" stroke="#4285f4"/></g></svg>
<svg style="left:785.8px;top:246.6px" width="9" height="9" viewBox="0 0 9 9"><g fill="none" stroke-width="1.6"><path d="M7.3 2.2A3.6 3.6 0 0 0 1.4 3" stroke="#ea4335"/><path d="M1.4 3A3.6 3.6 0 0 0 1.5 6.1" stroke="#fbbc05"/><path d="M1.5 6.1A3.6 3.6 0 0 0 7.6 6" stroke="#34a853"/><path d="M7.6 6A3.6 3.6 0 0 0 8.1 4.5L4.6 4.5" stroke="#4285f4"/></g></svg>
<svg style="left:786.5px;top:261px" width="9" height="9" viewBox="0 0 9 9"><path d="M4.5 0.3Q5 4 8.7 4.5Q5 5 4.5 8.7Q4 5 0.3 4.5Q4 4 4.5 0.3Z" fill="#4a78e8"/></svg>
<div class="t ai" style="left:800.4px;top:220.8px">ChatGPT</div>
<div class="t ai" style="left:800.4px;top:235.1px">AI Overview</div>
<div class="t ai" style="left:800.4px;top:248.5px">AI Mode</div>
<div class="t ai" style="left:800.4px;top:261.5px">Gemini</div>
<div class="t av" style="left:848px;top:220.8px">35.3K</div>
<div class="t av" style="left:848px;top:235.1px">271.6K</div>
<div class="t av" style="left:848px;top:248.5px">66.4K</div>
<div class="t av" style="left:848px;top:261.5px">4.0K</div>
<div class="t" style="left:786.9px;top:290.3px;font-size:7.1px;color:#2b2b38">Topic</div>
<div class="t" style="left:1000px;width:47.3px;text-align:right;top:290.3px;font-size:7px;color:#2b2b38">AI Volume</div>
<div class="a" style="left:775px;top:301.8px;width:284px;height:1.3px;background:#d6d8de"></div>
<div class="t tp" style="top:309.9px">Local SEO and Small Business Optimization</div>
<div class="t tp" style="top:331.3px">Local SEO and Citation Building</div>
<div class="t tp" style="top:353.4px">Google My Business and Local SEO Optimization</div>
<div class="t tp" style="top:375.1px">Local SEO Rank Tracking Tools</div>
<div class="t tp" style="top:396.5px">Google Maps SEO and Local Search Optimization</div>
<div class="t bv" style="top:310.1px">6.4K</div>
<div class="t bv" style="top:331.5px">6.4K</div>
<div class="t bv" style="top:353.6px">6.4K</div>
<div class="t bv" style="top:375.3px">5.4K</div>
<div class="t bv" style="top:396.7px">6.0K</div>
<div class="a rl" style="left:775px;top:323.4px;width:284px"></div>
<div class="a rl" style="left:775px;top:345.1px;width:284px"></div>
<div class="a rl" style="left:775px;top:366.5px;width:284px"></div>
<div class="a rl" style="left:775px;top:388.2px;width:284px"></div>
<div class="a rl" style="left:775px;top:410.3px;width:284px"></div>
<div class="a btn" style="left:786.5px;top:423px;width:76px"></div>
<div class="t bt" style="left:792.5px;top:427.1px">View all 85 topics</div>

<!-- help button -->
<div class="a" style="left:1036.4px;top:450.4px;width:29px;height:29px;border-radius:50%;background:#ff6a2b"></div>
<div class="t" style="left:1036.4px;width:29px;text-align:center;top:459.5px;font-size:12.5px;font-weight:700;color:#fff">?</div>

<!-- GREEN annotation -->
<div class="a" style="left:190px;top:143px;width:873px;height:317.5px;border:8px solid #22b14c"></div>
<div class="t" style="left:519.4px;top:219.6px;font-size:23.2px;color:#27a84b;letter-spacing:0.8px;-webkit-text-stroke:0.4px #27a84b">Keyword</div><div class="t" style="left:621px;top:219.6px;font-size:23.2px;color:#27a84b;letter-spacing:-0.25px;-webkit-text-stroke:0.4px #27a84b">Research</div>

<!-- FRAME -->
<div class="a" style="left:0;top:0;width:1080px;height:7px;background:#00a2e8"></div>
<div class="a" style="left:0;top:0;width:8px;height:494px;background:#00a2e8"></div>
<div class="a" style="left:1072px;top:0;width:8px;height:494px;background:#00a2e8"></div>
<div class="a" style="left:0;top:483px;width:1080px;height:8px;background:#00a2e8"></div>
<div class="a" style="left:0;top:491px;width:1080px;height:3px;background:#ededed"></div>
</body></html>
